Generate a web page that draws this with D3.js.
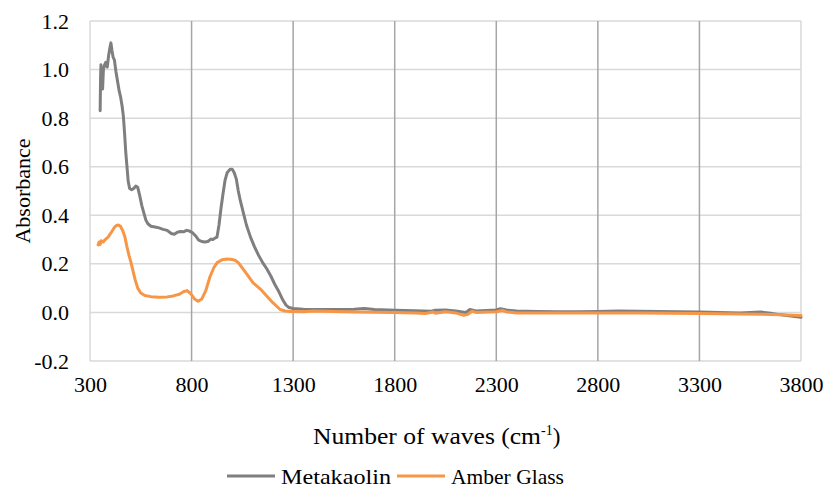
<!DOCTYPE html>
<html>
<head>
<meta charset="utf-8">
<script src="https://cdn.jsdelivr.net/npm/d3@7"></script>
<style>
  body { margin: 0; background: #fff; }
  svg text { font-family: "Liberation Serif", "Tinos", "Times New Roman", "DejaVu Serif", serif; fill: #000; }
</style>
</head>
<body>
<div id="chart"></div>
<script>
// wavenumbers (cm-1) and absorbance
const metakaolinWave = [350, 352, 354, 358, 362, 366, 372, 378, 385, 392, 398, 403, 408, 414, 420, 428, 436, 444, 450, 458, 464, 470, 476, 482, 488, 495, 505, 515, 525, 535, 545, 555, 565, 575, 585, 600, 620, 640, 660, 680, 700, 715, 730, 745, 760, 775, 790, 805, 820, 835, 850, 865, 880, 895, 905, 915, 925, 935, 945, 955, 965, 975, 990, 1000, 1010, 1020, 1030, 1040, 1055, 1070, 1090, 1110, 1130, 1150, 1170, 1190, 1210, 1230, 1250, 1265, 1280, 1300, 1350, 1400, 1500, 1600, 1650, 1700, 1800, 1900, 1980, 2000, 2050, 2100, 2150, 2170, 2200, 2300, 2320, 2350, 2400, 2500, 2600, 2700, 2800, 2900, 3000, 3100, 3200, 3300, 3400, 3500, 3600, 3650, 3700, 3750, 3800];
const metakaolinAbs = [0.83, 0.97, 1.02, 0.95, 0.92, 1.00, 1.02, 1.03, 1.01, 1.06, 1.09, 1.11, 1.08, 1.05, 1.04, 0.99, 0.95, 0.91, 0.89, 0.85, 0.81, 0.74, 0.66, 0.60, 0.54, 0.51, 0.505, 0.51, 0.52, 0.515, 0.48, 0.44, 0.41, 0.38, 0.365, 0.355, 0.352, 0.348, 0.342, 0.338, 0.325, 0.322, 0.33, 0.333, 0.332, 0.338, 0.335, 0.328, 0.315, 0.298, 0.292, 0.29, 0.292, 0.302, 0.30, 0.306, 0.31, 0.36, 0.43, 0.49, 0.545, 0.575, 0.59, 0.59, 0.575, 0.55, 0.50, 0.46, 0.41, 0.36, 0.31, 0.27, 0.235, 0.205, 0.18, 0.15, 0.115, 0.085, 0.05, 0.03, 0.02, 0.016, 0.013, 0.012, 0.012, 0.013, 0.016, 0.012, 0.009, 0.007, 0.005, 0.009, 0.01, 0.006, 0.0, 0.012, 0.006, 0.01, 0.015, 0.01, 0.006, 0.004, 0.003, 0.003, 0.004, 0.006, 0.005, 0.004, 0.003, 0.002, 0.0, -0.002, 0.002, -0.003, -0.01, -0.015, -0.02];

const amberWave = [340, 345, 350, 355, 365, 375, 389, 405, 420, 430, 440, 450, 462, 472, 482, 492, 502, 512, 522, 535, 550, 570, 600, 640, 680, 710, 740, 760, 778, 795, 815, 832, 850, 870, 891, 910, 926, 950, 975, 1000, 1014, 1030, 1054, 1080, 1103, 1140, 1172, 1200, 1236, 1260, 1285, 1300, 1350, 1400, 1500, 1600, 1700, 1800, 1900, 1950, 1990, 2000, 2050, 2100, 2140, 2160, 2180, 2200, 2300, 2330, 2350, 2400, 2500, 2700, 3000, 3300, 3500, 3600, 3700, 3800];
const amberAbs = [0.278, 0.29, 0.28, 0.295, 0.29, 0.30, 0.31, 0.33, 0.35, 0.358, 0.36, 0.355, 0.335, 0.31, 0.27, 0.235, 0.205, 0.17, 0.135, 0.10, 0.08, 0.07, 0.065, 0.063, 0.064, 0.068, 0.075, 0.085, 0.09, 0.078, 0.055, 0.046, 0.055, 0.09, 0.148, 0.185, 0.205, 0.217, 0.22, 0.218, 0.215, 0.205, 0.178, 0.148, 0.122, 0.095, 0.066, 0.04, 0.012, 0.006, 0.004, 0.004, 0.003, 0.006, 0.004, 0.002, 0.001, 0.0, -0.002, -0.004, 0.002, -0.003, 0.003, -0.002, -0.012, -0.008, 0.005, 0.0, 0.003, 0.008, 0.002, -0.002, -0.002, -0.002, -0.002, -0.004, -0.006, -0.007, -0.01, -0.013];

const xTicks = [300, 800, 1300, 1800, 2300, 2800, 3300, 3800];
const yTicks = [-0.2, 0.0, 0.2, 0.4, 0.6, 0.8, 1.0, 1.2];
const seriesNames = ["Metakaolin", "Amber Glass"];
const seriesColors = ["#7f7f7f", "#f79646"];

const width = 827, height = 489;
const margin = { left: 90, right: 26, top: 21, bottom: 128 };
const fontSize = "22px";

const svg = d3.select("#chart").append("svg")
    .attr("width", width)
    .attr("height", height);

const x = d3.scaleLinear().domain([300, 3800]).range([margin.left, width - margin.right]);
const y = d3.scaleLinear().domain([-0.2, 1.2]).range([height - margin.bottom, margin.top]);

// horizontal gridlines
svg.append("g")
    .selectAll("line")
    .data(yTicks)
    .enter()
    .append("line")
    .attr("x1", x(300)).attr("x2", x(3800))
    .attr("y1", d => y(d)).attr("y2", d => y(d))
    .attr("stroke", "#d9d9d9")
    .attr("stroke-width", 1.5);

// vertical gridlines
svg.append("g")
    .selectAll("line")
    .data(xTicks.slice(1, -1))
    .enter()
    .append("line")
    .attr("x1", d => x(d)).attr("x2", d => x(d))
    .attr("y1", y(1.2)).attr("y2", y(-0.2))
    .attr("stroke", "#a6a6a6")
    .attr("stroke-width", 1.5);

// plot border left / right
svg.append("g")
    .selectAll("line")
    .data([300, 3800])
    .enter()
    .append("line")
    .attr("x1", d => x(d)).attr("x2", d => x(d))
    .attr("y1", y(1.2)).attr("y2", y(-0.2))
    .attr("stroke", "#d9d9d9")
    .attr("stroke-width", 1.5);

// axes, labels only
const yAxis = d3.axisLeft(y).tickValues(yTicks).tickSize(0).tickPadding(21)
    .tickFormat(d => d3.format(".1f")(d).replace("\u2212", "-"));
const xAxis = d3.axisBottom(x).tickValues(xTicks).tickSize(0).tickPadding(15)
    .tickFormat(d3.format("d"));

svg.append("g")
    .attr("transform", `translate(${margin.left},0)`)
    .call(yAxis)
    .attr("font-family", null)
    .call(g => g.select(".domain").remove())
    .selectAll("text")
    .style("font-size", fontSize);

svg.append("g")
    .attr("transform", `translate(0,${y(-0.2)})`)
    .call(xAxis)
    .attr("font-family", null)
    .call(g => g.select(".domain").remove())
    .selectAll("text")
    .style("font-size", fontSize);

// series
const line = d3.line()
    .x(d => x(d[0]))
    .y(d => y(d[1]));

const series = [
    d3.zip(metakaolinWave, metakaolinAbs),
    d3.zip(amberWave, amberAbs)
];

svg.append("g")
    .selectAll("path")
    .data(series)
    .enter()
    .append("path")
    .attr("d", line)
    .attr("fill", "none")
    .attr("stroke", (d, i) => seriesColors[i])
    .attr("stroke-width", 3)
    .attr("stroke-linejoin", "round")
    .attr("stroke-linecap", "round");

// axis titles
svg.append("text")
    .attr("transform", `translate(30,${(y(1.2) + y(-0.2)) / 2}) rotate(-90)`)
    .attr("text-anchor", "middle")
    .style("font-size", fontSize)
    .text("Absorbance");

const xt = svg.append("text")
    .attr("x", 313)
    .attr("y", 444)
    .style("font-size", "23px");
xt.append("tspan")
    .attr("textLength", 228)
    .attr("lengthAdjust", "spacingAndGlyphs")
    .text("Number of waves (cm");
xt.append("tspan").attr("dy", -9).style("font-size", "14px").text("-1");
xt.append("tspan").attr("dy", 9).text(")");

// legend
const legendX = [227, 397];
const legendTextLen = [110, 113];
const legend = svg.append("g")
    .selectAll("g")
    .data(seriesNames)
    .enter()
    .append("g")
    .attr("transform", (d, i) => `translate(${legendX[i]},476)`);

legend.append("line")
    .attr("x1", 0).attr("x2", 48)
    .attr("stroke", (d, i) => seriesColors[i])
    .attr("stroke-width", 3);

legend.append("text")
    .attr("x", 54)
    .attr("dy", "0.35em")
    .attr("textLength", (d, i) => legendTextLen[i])
    .attr("lengthAdjust", "spacingAndGlyphs")
    .style("font-size", fontSize)
    .text(d => d);
</script>
</body>
</html>
